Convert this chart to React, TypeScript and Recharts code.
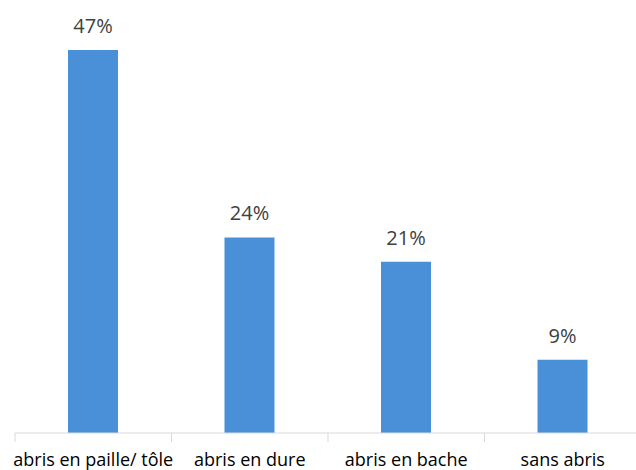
import { BarChart, Bar, XAxis, YAxis, LabelList } from 'recharts';

const categories = ['abris en paille/ tôle', 'abris en dure', 'abris en bache', 'sans abris'];
const shares = [47, 24, 21, 9];

const data = categories.map((name, i) => ({ name, value: shares[i] }));

const CHART_W = 641;
const LEFT = 15;
const BAND = (CHART_W - LEFT) / categories.length;

const CategoryTick = (props: any) => {
  const { x, y, payload, index } = props;
  return (
    <g>
      <line x1={x - BAND / 2} x2={x - BAND / 2} y1={y - 8} y2={y + 1} stroke="#d9d9d9" />
      {index === categories.length - 1 && (
        <line x1={x + BAND / 2} x2={x + BAND / 2} y1={y - 8} y2={y + 1} stroke="#d9d9d9" />
      )}
      <text x={x} y={y + 25} textAnchor="middle" fontSize={18} fill="#000">
        {payload.value}
      </text>
    </g>
  );
};

export default function App() {
  return (
    <div style={{ position: 'absolute', left: 0, top: 0, width: 636, height: 470, overflow: 'hidden', background: '#fff', fontFamily: '"Open Sans", sans-serif' }}>
      <BarChart
        width={CHART_W}
        height={470}
        data={data}
        margin={{ top: 25.5, right: 0, left: LEFT, bottom: 0 }}
      >
        <XAxis
          dataKey="name"
          height={37}
          axisLine={{ stroke: '#d9d9d9' }}
          tickLine={false}
          interval={0}
          tick={<CategoryTick />}
        />
        <YAxis hide domain={[0, 50]} />
        <Bar dataKey="value" fill="#4a90d9" barSize={50} isAnimationActive={false}>
          <LabelList
            dataKey="value"
            position="top"
            offset={17}
            formatter={(v: number) => `${v}%`}
            style={{ fontSize: 20, fill: '#404040' }}
          />
        </Bar>
      </BarChart>
    </div>
  );
}
